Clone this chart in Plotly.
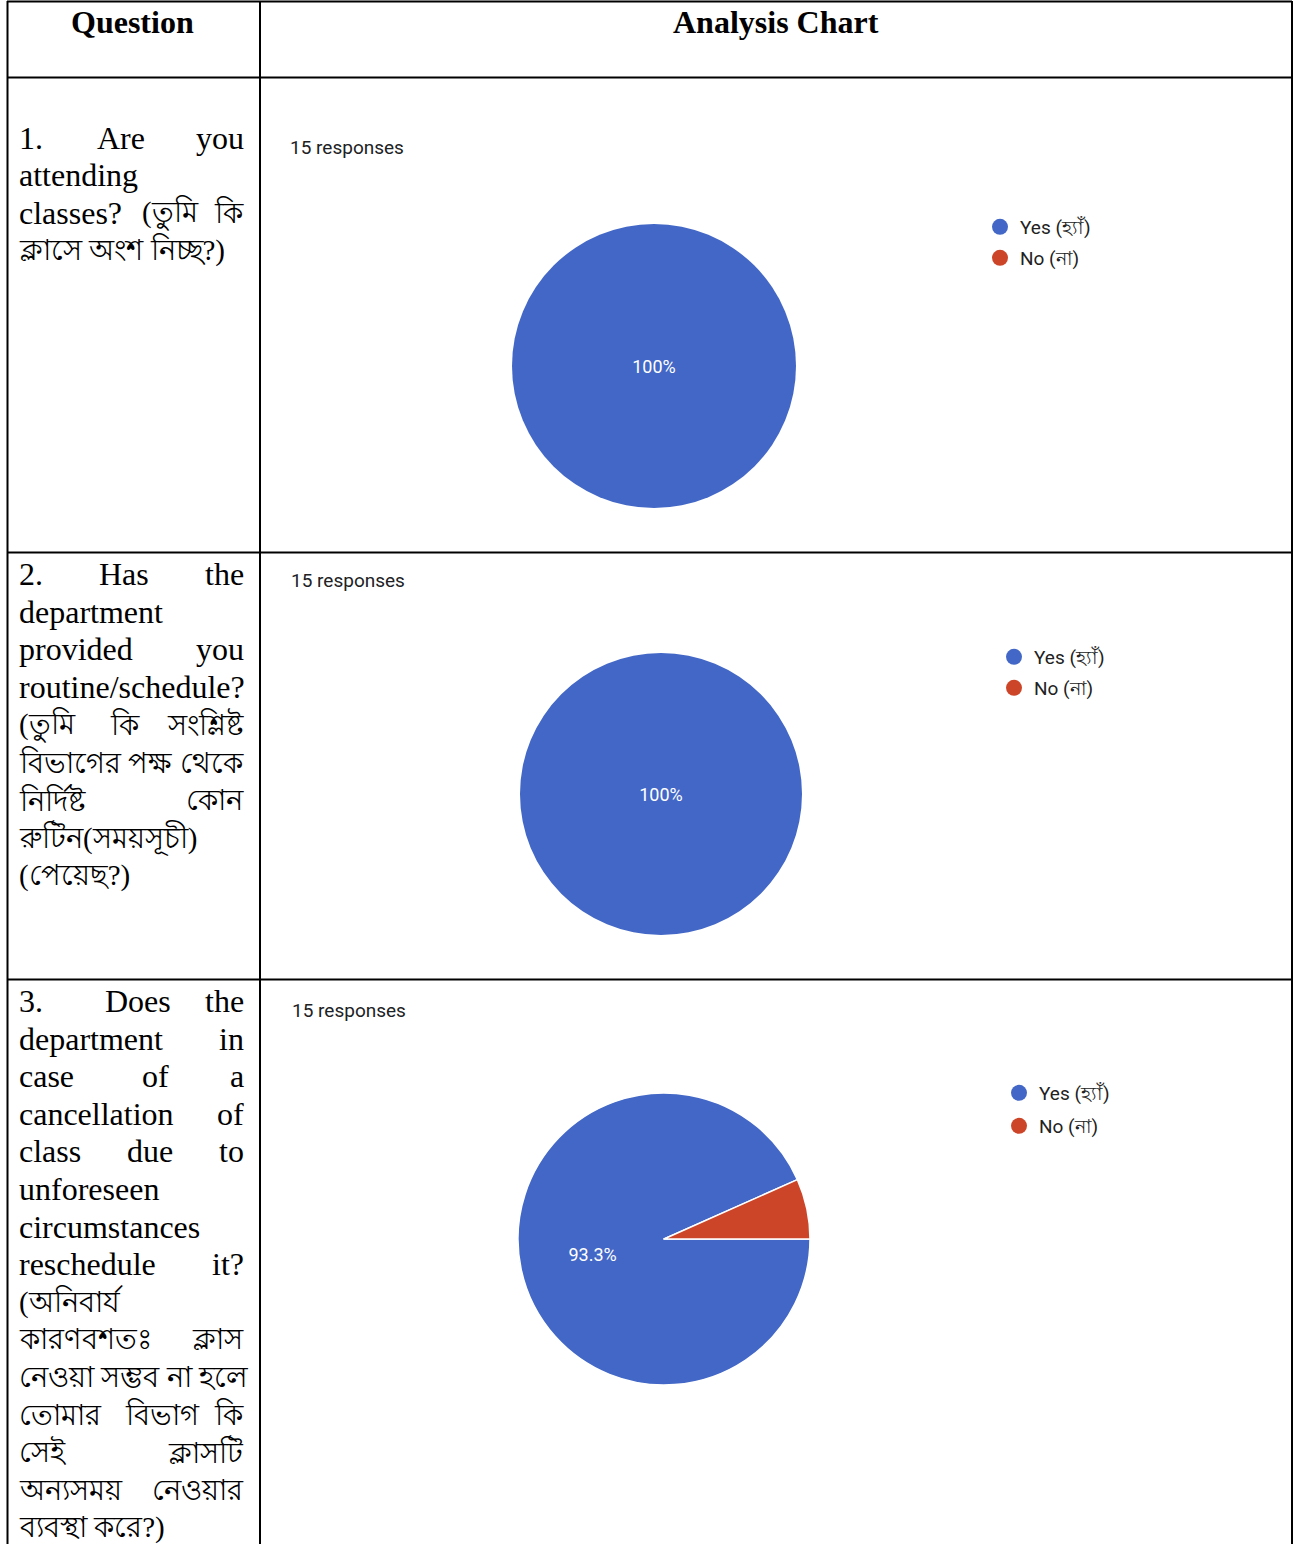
import plotly.graph_objects as go

W, H = 1306, 1544

# ---------------- data ----------------
answers = ["Yes (হ্যাঁ)", "No (না)"]
q1_counts = [15, 0]
q2_counts = [15, 0]
q3_counts = [14, 1]
responses = ["15 responses", "15 responses", "15 responses"]
colors = ["#4267c6", "#cd4528"]

header_labels = ["Question", "Analysis Chart"]

# question text, line by line: (words, middle-word centres or None)
q1_lines = [
    (["1.", "Are", "you"], [121]),
    (["attending"], None),
    (["classes?", "(তুমি", "কি"], [170]),
    (["ক্লাসে অংশ নিচ্ছ?)"], None),
]
q2_lines = [
    (["2.", "Has", "the"], [124]),
    (["department"], None),
    (["provided", "you"], []),
    (["routine/schedule?"], None),
    (["(তুমি", "কি", "সংশ্লিষ্ট"], [125]),
    (["বিভাগের পক্ষ থেকে"], None),
    (["নির্দিষ্ট", "কোন"], []),
    (["রুটিন(সময়সূচী)"], None),
    (["(পেয়েছ?)"], None),
]
q3_lines = [
    (["3.", "Does", "the"], [138]),
    (["department", "in"], []),
    (["case", "of", "a"], [155]),
    (["cancellation", "of"], []),
    (["class", "due", "to"], [150]),
    (["unforeseen"], None),
    (["circumstances"], None),
    (["reschedule", "it?"], []),
    (["(অনিবার্য"], None),
    (["কারণবশতঃ", "ক্লাস"], []),
    (["নেওয়া সম্ভব না হলে"], None),
    (["তোমার", "বিভাগ", "কি"], [162]),
    (["সেই", "ক্লাসটি"], []),
    (["অন্যসময়", "নেওয়ার"], []),
    (["ব্যবস্থা করে?)"], None),
]

# ---------------- layout helpers ----------------
def px(x):
    return x / W

def py(y):
    return 1 - y / H

def is_bengali(s):
    return any("\u0980" <= ch <= "\u09ff" for ch in s)

fig = go.Figure()

serif = "Liberation Serif, Times New Roman, serif"
sans = "Roboto, Arial, sans-serif"

# pies: centre (px), radius
pie_geo = [(654, 366, 142), (661, 794, 141), (664, 1239, 146)]
all_counts = [q1_counts, q2_counts, q3_counts]
legend_x = [980, 994, 999]
legend_item_y = [(227, 258), (657, 688), (1093, 1126)]
resp_pos = [(288, 147), (289, 580), (290, 1010)]

legend_style = dict(
    bgcolor="rgba(0,0,0,0)", font=dict(family=sans, size=19, color="#222222"),
    xanchor="left", yanchor="top", itemsizing="trace",
)
lay = {}
n_leg = 0
for i, (counts, (cx, cy, r)) in enumerate(zip(all_counts, pie_geo)):
    lw = 0 if min(counts) == 0 else 1.5
    fig.add_trace(go.Pie(
        labels=answers, values=counts, sort=False, direction="clockwise",
        rotation=90, showlegend=False,
        marker=dict(colors=colors, line=dict(color="white", width=lw)),
        texttemplate=["%{percent:.3~p}", ""], textposition="inside",
        insidetextorientation="horizontal",
        textfont=dict(family=sans, size=18, color="white"),
        hoverinfo="label+value+percent",
        domain=dict(x=[px(cx - r), px(cx + r)], y=[py(cy + r), py(cy - r)]),
    ))
    for name, col, yc in zip(answers, colors, legend_item_y[i]):
        n_leg += 1
        lname = "legend" if n_leg == 1 else f"legend{n_leg}"
        fig.add_trace(go.Scatter(
            x=[None], y=[None], mode="markers", name=name,
            marker=dict(color=col, size=16, symbol="circle"),
            legend=lname, showlegend=True, hoverinfo="skip",
        ))
        lay[lname] = dict(x=px(legend_x[i]), y=py(yc - 19), **legend_style)

annotations = []
# headers
for txt, x in zip(header_labels, [132, 776]):
    annotations.append(dict(text=f"<b>{txt}</b>", x=px(x), y=py(22), xref="paper", yref="paper",
                            xanchor="center", yanchor="middle", showarrow=False,
                            font=dict(family=serif, size=32, color="black")))
# responses labels
for txt, (x, y) in zip(responses, resp_pos):
    annotations.append(dict(text=txt, x=px(x), y=py(y), xref="paper", yref="paper",
                            xanchor="left", yanchor="middle", showarrow=False,
                            font=dict(family=sans, size=19, color="#202124")))

# question text
LX, RX = 17, 246
starts = [138, 574, 1001]
gaps = [37.3, 37.7, 37.6]

def word_font(w):
    return dict(family=serif, size=29 if is_bengali(w) else 32, color="black")

def add_word(w, x, y, anchor):
    annotations.append(dict(text=w, x=px(x), y=y, xref="paper", yref="paper",
                            xanchor=anchor, yanchor="middle", showarrow=False,
                            font=word_font(w)))

for lines, y0, g in zip([q1_lines, q2_lines, q3_lines], starts, gaps):
    for k, (words, mids) in enumerate(lines):
        y = py(y0 + k * g)
        add_word(words[0], LX, y, "left")
        if mids is None:
            continue
        for w, m in zip(words[1:-1], mids):
            add_word(w, m, y, "center")
        add_word(words[-1], RX, y, "right")

# table lines
shapes = []
def hline(y, x0=7, x1=1292):
    shapes.append(dict(type="line", xref="paper", yref="paper", x0=px(x0), x1=px(x1),
                       y0=py(y), y1=py(y), line=dict(color="black", width=2)))
def vline(x, y0=1, y1=1544):
    shapes.append(dict(type="line", xref="paper", yref="paper", x0=px(x), x1=px(x),
                       y0=py(y0), y1=py(y1), line=dict(color="black", width=2)))
for y in [1.5, 77.5, 552.5, 979.5]:
    hline(y)
for x in [7.5, 260, 1292]:
    vline(x)

fig.update_layout(
    width=W, height=H, margin=dict(l=0, r=0, t=0, b=0),
    paper_bgcolor="white", plot_bgcolor="white",
    xaxis=dict(visible=False), yaxis=dict(visible=False),
    annotations=annotations, shapes=shapes, **lay,
)
fig.write_html("out.html", config={"displayModeBar": False},
               post_script="document.body.style.margin='0';document.body.style.overflow='hidden';")
